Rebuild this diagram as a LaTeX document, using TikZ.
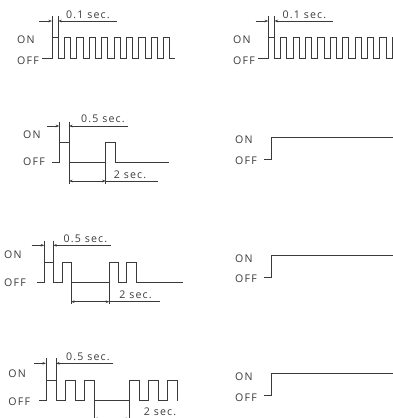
\documentclass[tikz,border=0pt]{standalone}
\usepackage{fontspec}
\setmainfont[LetterSpace=11]{Open Sans}
\usetikzlibrary{arrows.meta}
\definecolor{ink}{HTML}{3A3A3A}
\begin{document}
\begin{tikzpicture}[x=1pt,y=-1pt,
  wave/.style={draw=ink, line width=0.85pt, line join=miter},
  dimline/.style={draw=ink, line width=0.6pt},
  arr/.style={-{Stealth[length=3.6pt,width=2.6pt]}},
  dbl/.style={{Stealth[length=3.6pt,width=2.6pt]}-{Stealth[length=3.6pt,width=2.6pt]}},
  lbl/.style={font=\fontsize{10.6}{12}\selectfont, text=ink, inner sep=0pt},
  state/.style={lbl, anchor=west}]
\useasboundingbox (0,0) rectangle (393,418);
\clip (0,0) rectangle (393,418);

% ---------- Row 1 left ----------
\node[state] (on1) at (17,40) {ON};
\node[state] (off1) at (17,61) {OFF};
\draw[wave] (42,58.5) foreach \i in {0,...,9} { -- ({52+12.4*\i},58.5) -- ++(0,-21.5) -- ++(6.2,0) -- ++(0,21.5) } -- (175,58.5);
\coordinate (a1) at (52,16); \coordinate (a2) at (58.2,16);
\draw[dimline] (a1) -- (52,37);
\draw[dimline] (a2) -- (58.2,37);
\draw[dimline,arr] (39,21) -- (52,21);
\draw[dimline,arr] (117,21) -- (58.2,21);
\node[lbl] (t1) at (88,15) {0.1 sec.};

% ---------- Row 1 right ----------
\node[state] (on2) at (233,40) {ON};
\node[state] (off2) at (233,61) {OFF};
\draw[wave] (258,58.5) foreach \i in {0,...,10} { -- ({268.2+12.4*\i},58.5) -- ++(0,-21.5) -- ++(6.2,0) -- ++(0,21.5) } -- (400,58.5);
\coordinate (b1) at (268.2,16); \coordinate (b2) at (274.4,16);
\draw[dimline] (b1) -- (268.2,37);
\draw[dimline] (b2) -- (274.4,37);
\draw[dimline,arr] (255.5,21) -- (268.2,21);
\draw[dimline,arr] (333,21) -- (274.4,21);
\node[lbl] (t2) at (304.5,15) {0.1 sec.};

% ---------- Row 2 left ----------
\node[state] (on3) at (23,135) {ON};
\node[state] (off3) at (23,161.5) {OFF};
\draw[wave] (52,162.3) -- (59.3,162.3) -- (59.3,142.3) -- (69,142.3) -- (69,162.3)
  -- (105.7,162.3) -- (105.7,142.3) -- (115,142.3) -- (115,162.3) -- (169,162.3);
\draw[dimline] (59.3,121.5) -- (59.3,142.3);
\draw[dimline] (69,121.5) -- (69,142.3);
\draw[dimline,arr] (47,126) -- (59.3,126);
\draw[dimline,arr] (128,126) -- (69,126);
\node[lbl] (t3) at (103,119) {0.5 sec.};
\draw[dimline] (69,162.3) -- (69,183.5);
\draw[dimline] (105.7,162.3) -- (105.7,183.5);
\draw[dimline,dbl] (69,181) -- (105.7,181);
\draw[dimline] (105.7,181) -- (158,181);
\node[lbl] (t4) at (130,175) {2 sec.};

% ---------- Row 2 right ----------
\node[state] (on4) at (235,140) {ON};
\node[state] (off4) at (235,160.5) {OFF};
\draw[wave] (264,159) -- (271.7,159) -- (271.7,137.3) -- (400,137.3);

% ---------- Row 3 left ----------
\node[state] (on5) at (4,255) {ON};
\node[state] (off5) at (4,282.3) {OFF};
\draw[wave] (37.3,282.3) -- (44.3,282.3) -- (44.3,262.3) -- (53.3,262.3) -- (53.3,282.3)
  -- (62,282.3) -- (62,262.3) -- (71,262.3) -- (71,282.3)
  -- (109.3,282.3) -- (109.3,262.3) -- (118.3,262.3) -- (118.3,282.3)
  -- (126.7,282.3) -- (126.7,262.3) -- (136,262.3) -- (136,282.3) -- (182.7,282.3);
\draw[dimline] (44.3,240.5) -- (44.3,262.3);
\draw[dimline] (53.3,240.5) -- (53.3,262.3);
\draw[dimline,arr] (31.7,245.3) -- (44.3,245.3);
\draw[dimline,arr] (111,245.3) -- (53.3,245.3);
\node[lbl] (t5) at (85.5,238.5) {0.5 sec.};
\draw[dimline] (71,282.3) -- (71,303.5);
\draw[dimline] (109.3,282.3) -- (109.3,303.5);
\draw[dimline,dbl] (71,301.7) -- (109.3,301.7);
\draw[dimline] (109.3,301.7) -- (160,301.7);
\node[lbl] (t6) at (135.5,295) {2 sec.};

% ---------- Row 3 right ----------
\node[state] (on6) at (235,258.5) {ON};
\node[state] (off6) at (235,278.5) {OFF};
\draw[wave] (264,277) -- (271.7,277) -- (271.7,255.5) -- (400,255.5);

% ---------- Row 4 left ----------
\node[state] (on7) at (8.3,373.3) {ON};
\node[state] (off7) at (8.3,401.5) {OFF};
\draw[wave] (39.3,400.7)
  -- (46,400.7) -- (46,380) -- (56,380) -- (56,400.7)
  -- (65,400.7) -- (65,380) -- (75,380) -- (75,400.7)
  -- (84,400.7) -- (84,380) -- (94,380) -- (94,400.7)
  -- (129.3,400.7) -- (129.3,380) -- (139.3,380) -- (139.3,400.7)
  -- (148.3,400.7) -- (148.3,380) -- (158.3,380) -- (158.3,400.7)
  -- (167.3,400.7) -- (167.3,380) -- (177,380) -- (177,400.7);
\draw[dimline] (46,358.3) -- (46,380);
\draw[dimline] (56,358.3) -- (56,380);
\draw[dimline,arr] (34.3,363.3) -- (46,363.3);
\draw[dimline,arr] (113.3,363.3) -- (56,363.3);
\node[lbl] (t7) at (88,357) {0.5 sec.};
\draw[dimline] (94,400.7) -- (94,425);
\draw[dimline] (129.3,400.7) -- (129.3,425);
\draw[dimline,dbl] (94,418.8) -- (129.3,418.8);
\draw[dimline] (129.3,418.8) -- (180,418.8);
\node[lbl] (t8) at (160,411.5) {2 sec.};

% ---------- Row 4 right ----------
\node[state] (on8) at (235,376.7) {ON};
\node[state] (off8) at (235,397.7) {OFF};
\draw[wave] (264,395.7) -- (271.7,395.7) -- (271.7,373.3) -- (400,373.3);
\end{tikzpicture}
\end{document}
